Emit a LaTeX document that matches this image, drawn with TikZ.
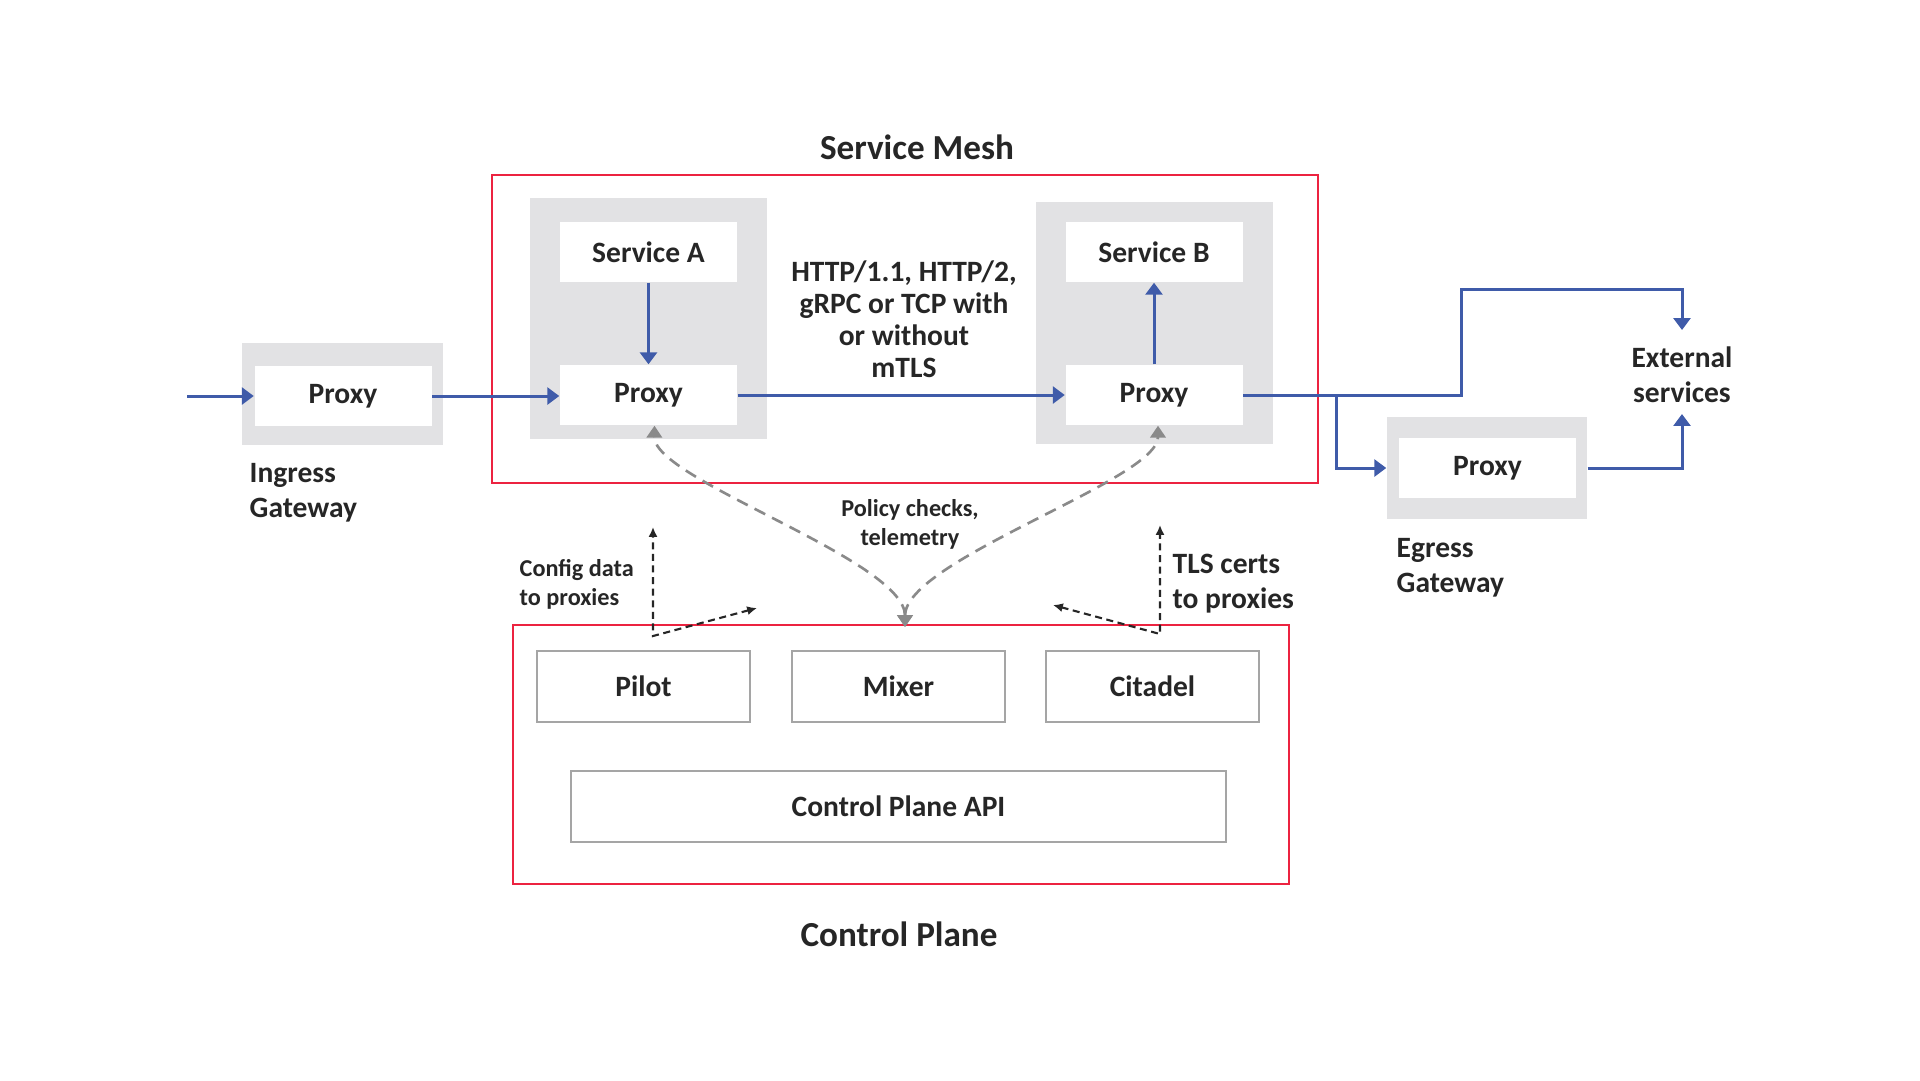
\documentclass[tikz,border=0pt]{standalone}
\usepackage{fontspec}
\setmainfont{Carlito}
\usetikzlibrary{arrows.meta}
\definecolor{meshred}{RGB}{236,35,64}
\definecolor{flowblue}{RGB}{63,91,169}
\definecolor{podgray}{RGB}{226,226,228}
\definecolor{boxline}{RGB}{165,165,165}
\definecolor{policygray}{RGB}{138,138,138}
\definecolor{textdark}{RGB}{38,38,38}
\begin{document}
\begin{tikzpicture}[x=0.1mm, y=-0.1mm,
  every node/.style={text=textdark, font=\bfseries\fontsize{8.4}{9.9}\selectfont},
  title/.style={font=\bfseries\fontsize{10}{12}\selectfont},
  small/.style={font=\bfseries\fontsize{6.9}{8.2}\selectfont},
  label/.style={anchor=west, align=left, inner sep=0pt},
  frame/.style={draw=meshred, line width=0.8pt, inner sep=0pt},
  pod/.style={fill=podgray, inner sep=0pt},
  whitebox/.style={fill=white, inner sep=0pt, minimum width=17.7mm, minimum height=6mm},
  cpbox/.style={draw=boxline, line width=0.4pt, fill=white, inner sep=0pt, minimum width=21.3mm, minimum height=7.1mm},
  flow/.style={draw=flowblue, line width=0.85pt, -{Triangle[length=3.4pt, width=4.8pt]}},
  policy/.style={draw=policygray, line width=0.75pt, dash pattern=on 3.4pt off 2.2pt,
    {Triangle[length=3.4pt, width=4.4pt]}-{Triangle[length=3.4pt, width=4.4pt]}},
  push/.style={draw=textdark, line width=0.6pt, dash pattern=on 2pt off 1.3pt,
    {Latex[length=2.8pt, width=2.6pt]}-{Latex[length=2.8pt, width=2.6pt]}}]
\useasboundingbox (0,0) rectangle (1920,1080);

\node[frame, minimum width=82.6mm, minimum height=30.8mm] (mesh) at (905,329) {};
\node[title] (meshtitle) at (917,147) {Service Mesh};
\node[pod, minimum width=23.7mm, minimum height=24.1mm] (podA) at (648.5,318.5) {};
\node[pod, minimum width=23.7mm, minimum height=24.2mm] (podB) at (1154.5,323) {};
\node[pod, minimum width=20.1mm, minimum height=10.2mm] (ingpod) at (342.5,394) {};
\node[pod, minimum width=20mm, minimum height=10.2mm] (egpod) at (1487,468) {};
\node[whitebox] (svcA) at (648.5,252) {Service A};
\node[whitebox] (proxyA) at (648.5,395) {Proxy};
\node[whitebox] (svcB) at (1154,252) {Service B};
\node[whitebox] (proxyB) at (1154,395) {Proxy};
\node[whitebox] (ingress) at (343,396) {Proxy};
\node[whitebox] (egress) at (1487.5,468) {Proxy};

\node[align=center, font=\bfseries\fontsize{8.4}{9.1}\selectfont] (proto) at (904,319) {HTTP/1.1, HTTP/2,\\gRPC or TCP with\\or without\\mTLS};
\node[label] (inglabel) at (249,493) {Ingress\\Gateway};
\node[label] (eglabel) at (1396,568) {Egress\\Gateway};
\node[align=center] (ext) at (1682,375) {External\\services};

\node[frame, minimum width=77.6mm, minimum height=25.9mm] (cp) at (901,754.5) {};
\node[title] (cptitle) at (899,934) {Control Plane};
\node[cpbox] (pilot) at (643.5,686.5) {Pilot};
\node[cpbox] (mixer) at (898.5,686.5) {Mixer};
\node[cpbox] (citadel) at (1152.5,686.5) {Citadel};
\node[cpbox, minimum width=65.5mm] (api) at (898.5,806.5) {Control Plane API};

\node[small, align=center] (policy) at (910,524) {Policy checks,\\telemetry};
\node[small, label] (config) at (519,584) {Config data\\to proxies};
\node[label] (tls) at (1172,584) {TLS certs\\to proxies};

\coordinate (inflow) at (187,396);
\coordinate (split) at (1336,395);
\coordinate (exttop) at (1682,330);
\coordinate (extbot) at (1682,414);
\coordinate (mixin) at (905,627);
\coordinate (pilotcorner) at (653,636);
\coordinate (pilotup) at (653,527);
\coordinate (pilotside) at (757,608);
\coordinate (citcorner) at (1160,634);
\coordinate (citup) at (1160,525);
\coordinate (citside) at (1053,605);

\draw[flow] (inflow) -- (ingress);
\draw[flow] (ingress.east) -- (ingress.east -| proxyA.west);
\draw[flow] (svcA) -- (proxyA);
\draw[flow] (proxyA) -- (proxyB);
\draw[flow] (proxyB) -- (svcB);
\draw[flow] (proxyB.east) -| (1461,289) -| (exttop);
\draw[flow] (split) |- (egpod.west);
\draw[flow] (egpod.east) -| (extbot);

\draw[policy] (mixin) .. controls (905,560) and (654,480) .. ([xshift=0.6mm]proxyA.south);
\draw[policy] (mixin) .. controls (905,560) and (1158,480) .. ([xshift=0.4mm]proxyB.south);
\draw[push] (pilotside) -- (pilotcorner) -- (pilotup);
\draw[push] (citside) -- (citcorner) -- (citup);
\end{tikzpicture}
\end{document}
